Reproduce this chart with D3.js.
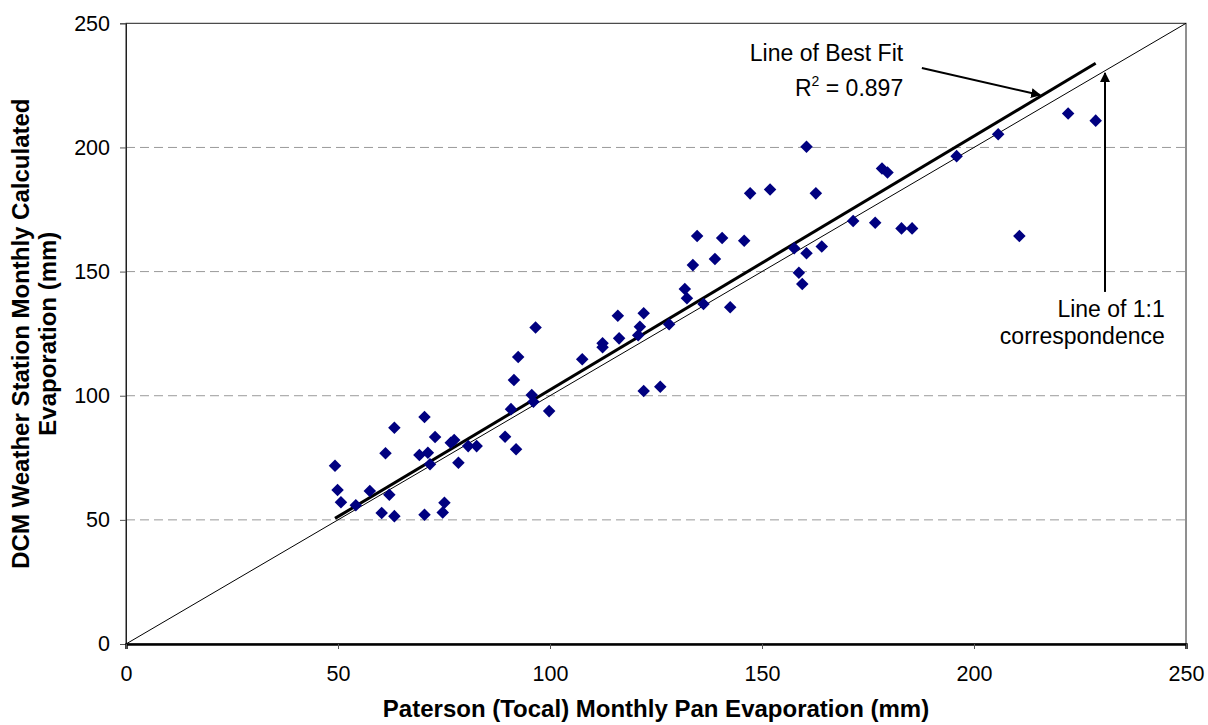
<!DOCTYPE html>
<html>
<head>
<meta charset="utf-8">
<script src="https://cdn.jsdelivr.net/npm/d3@7"></script>
<style>
  html, body { margin: 0; padding: 0; background: #ffffff; }
  svg { display: block; font-family: "Liberation Sans", Arial, sans-serif; }
</style>
</head>
<body>
<svg id="chart" width="1208" height="725"></svg>
<script>
// Monthly pan evaporation (Paterson) vs. calculated evaporation (DCM station), mm
const panEvap = [49.3, 49.9, 50.7, 54.2, 57.5, 60.3, 61.2, 62.1, 63.3, 63.3, 69.2, 70.4, 70.4, 71.2, 71.7, 72.9, 74.7, 75.1, 76.6, 77.4, 78.4, 80.7, 82.7, 89.4, 90.8, 91.5, 92.0, 92.5, 95.7, 96.1, 96.6, 99.8, 107.6, 112.4, 112.4, 116.0, 116.3, 120.8, 121.2, 122.1, 122.1, 126.0, 128.1, 131.8, 132.3, 133.7, 134.7, 136.2, 138.9, 140.6, 142.5, 145.8, 147.2, 151.9, 157.6, 158.7, 159.5, 160.5, 160.5, 162.7, 164.1, 171.5, 176.7, 178.3, 179.6, 182.9, 185.4, 195.9, 205.7, 210.7, 222.2, 228.7];
const calcEvap = [71.8, 62.0, 57.1, 55.9, 61.6, 52.8, 76.8, 60.1, 87.1, 51.5, 76.1, 91.4, 52.1, 77.0, 72.4, 83.4, 53.0, 56.9, 81.1, 82.2, 73.0, 79.7, 79.7, 83.5, 94.6, 106.3, 78.4, 115.6, 100.3, 97.6, 127.5, 93.8, 114.7, 121.1, 119.5, 132.2, 123.1, 124.4, 127.8, 133.2, 101.9, 103.6, 128.8, 143.0, 139.3, 152.6, 164.3, 136.9, 155.1, 163.5, 135.6, 162.4, 181.5, 183.1, 159.4, 149.5, 145.0, 200.3, 157.4, 181.5, 160.1, 170.4, 169.7, 191.5, 189.9, 167.4, 167.4, 196.5, 205.3, 164.3, 213.7, 210.8];

// Least-squares line (slope, intercept) and its R²
const fitCoef = [1.022, 0.2];
const fitR2 = "0.897";

const xTicks = [0, 50, 100, 150, 200, 250];
const yTicks = [0, 50, 100, 150, 200, 250];
const gridTicks = [50, 100, 150, 200];

const xTitle = "Paterson (Tocal) Monthly Pan Evaporation (mm)";
const yTitleLines = ["DCM Weather Station Monthly Calculated", "Evaporation (mm)"];

const svg = d3.select("#chart");
const plot = { left: 126, top: 23.3, right: 1186, bottom: 644 };

const x = d3.scaleLinear().domain([0, 250]).range([plot.left, plot.right]);
const y = d3.scaleLinear().domain([0, 250]).range([plot.bottom, plot.top]);

// arrowhead marker
const defs = svg.append("defs");
defs.append("marker")
  .attr("id", "arrow")
  .attr("viewBox", "0 0 10 10")
  .attr("refX", 9).attr("refY", 5)
  .attr("markerWidth", 5).attr("markerHeight", 5)
  .attr("markerUnits", "strokeWidth")
  .attr("orient", "auto")
  .append("path")
  .attr("d", "M0,0 L10,5 L0,10 Z")
  .attr("fill", "#000");

// dashed horizontal gridlines
svg.append("g")
  .selectAll("line")
  .data(gridTicks)
  .join("line")
  .attr("x1", plot.left).attr("x2", plot.right)
  .attr("y1", d => y(d)).attr("y2", d => y(d))
  .attr("stroke", "#9a9a9a")
  .attr("stroke-width", 1)
  .attr("stroke-dasharray", "9,5");

// plot frame
svg.append("rect")
  .attr("x", plot.left).attr("y", plot.top)
  .attr("width", plot.right - plot.left).attr("height", plot.bottom - plot.top)
  .attr("fill", "none")
  .attr("stroke", "#202020")
  .attr("stroke-width", 1);

// 1:1 correspondence line
svg.append("line")
  .attr("x1", x(0)).attr("y1", y(0))
  .attr("x2", x(250)).attr("y2", y(250))
  .attr("stroke", "#000").attr("stroke-width", 1);

// line of best fit across the range of the data
const xMin = d3.min(panEvap), xMax = d3.max(panEvap);
svg.append("line")
  .attr("x1", x(xMin)).attr("y1", y(fitCoef[0] * xMin + fitCoef[1]))
  .attr("x2", x(xMax)).attr("y2", y(fitCoef[0] * xMax + fitCoef[1]))
  .attr("stroke", "#000").attr("stroke-width", 3);

// data points as diamonds
const pts = d3.range(panEvap.length).map(i => [panEvap[i], calcEvap[i]]);
svg.append("g")
  .selectAll("path")
  .data(pts)
  .join("path")
  .attr("transform", d => `translate(${x(d[0])},${y(d[1])})`)
  .attr("d", d3.symbol(d3.symbolDiamond2, 100)())
  .attr("fill", "#000080");

// y axis
const yAxis = svg.append("g")
  .attr("transform", `translate(${plot.left},0)`)
  .call(d3.axisLeft(y).tickValues(yTicks).tickSize(6).tickPadding(10));
yAxis.select(".domain").attr("stroke", "#202020");
yAxis.selectAll(".tick line").attr("stroke", "#555");
yAxis.selectAll("text")
  .attr("font-size", 21.5).attr("fill", "#000")
  .attr("font-family", "Liberation Sans, Arial, sans-serif");

// x axis
const xAxis = svg.append("g")
  .attr("transform", `translate(0,${plot.bottom})`)
  .call(d3.axisBottom(x).tickValues(xTicks).tickSize(5).tickPadding(17));
xAxis.select(".domain").attr("stroke", "#000").attr("stroke-width", 2.5);
xAxis.selectAll(".tick line").attr("stroke", "#555");
xAxis.selectAll("text")
  .attr("font-size", 21.5).attr("fill", "#000")
  .attr("font-family", "Liberation Sans, Arial, sans-serif");

// axis titles
svg.append("text")
  .attr("x", (plot.left + plot.right) / 2)
  .attr("y", 717)
  .attr("text-anchor", "middle")
  .attr("font-size", 24).attr("font-weight", "bold")
  .text(xTitle);

const yTitle = svg.append("text")
  .attr("transform", `translate(0,${(plot.top + plot.bottom) / 2}) rotate(-90)`)
  .attr("text-anchor", "middle")
  .attr("font-size", 24).attr("font-weight", "bold");
yTitle.selectAll("tspan")
  .data(yTitleLines)
  .join("tspan")
  .attr("x", 0)
  .attr("y", (d, i) => 29 + i * 27)
  .text(d => d);

// annotations
const ann = svg.append("g").attr("font-size", 23).attr("fill", "#000");
ann.append("text")
  .attr("x", x(183.3)).attr("y", y(234.8))
  .attr("text-anchor", "end")
  .text("Line of Best Fit");
const r2 = ann.append("text")
  .attr("x", x(183.3)).attr("y", y(220.7))
  .attr("text-anchor", "end");
r2.append("tspan").text("R");
r2.append("tspan").attr("font-size", 14).attr("dy", -10).text("2");
r2.append("tspan").attr("dy", 10).text(" = " + fitR2);

svg.append("line")
  .attr("x1", x(187.7)).attr("y1", y(232))
  .attr("x2", x(215.6)).attr("y2", y(221.1))
  .attr("stroke", "#000").attr("stroke-width", 2)
  .attr("marker-end", "url(#arrow)");

svg.append("line")
  .attr("x1", x(230.9)).attr("y1", y(141.8))
  .attr("x2", x(230.9)).attr("y2", y(230))
  .attr("stroke", "#000").attr("stroke-width", 2)
  .attr("marker-end", "url(#arrow)");

ann.append("text")
  .attr("x", x(245)).attr("y", y(131.7))
  .attr("text-anchor", "end")
  .text("Line of 1:1");
ann.append("text")
  .attr("x", x(245)).attr("y", y(120.8))
  .attr("text-anchor", "end")
  .text("correspondence");
</script>
</body>
</html>
